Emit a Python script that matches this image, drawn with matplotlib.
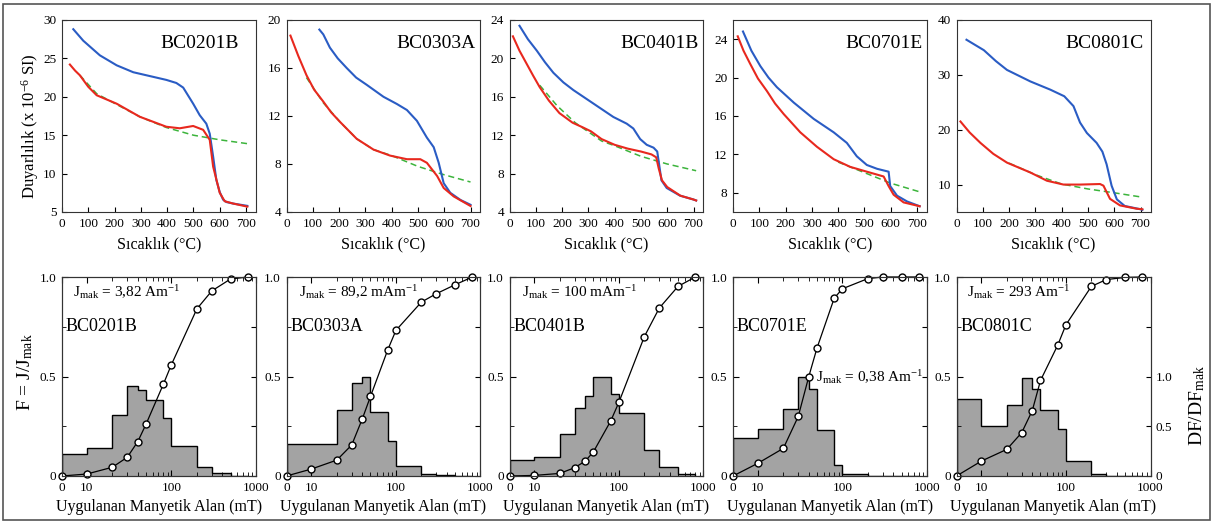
"""Thermomagnetic (k-T) curves and IRM acquisition / coercivity spectra for five samples."""
import matplotlib
matplotlib.use("Agg")
import matplotlib.pyplot as plt
from matplotlib import ticker
from matplotlib.patches import Rectangle

plt.rcParams["font.family"] = ["Liberation Serif", "DejaVu Serif"]
plt.rcParams["mathtext.fontset"] = "custom"
plt.rcParams["mathtext.rm"] = "Liberation Serif"
plt.rcParams["mathtext.it"] = "Liberation Serif:italic"

SAMPLES = ["BC0201B", "BC0303A", "BC0401B", "BC0701E", "BC0801C"]

# ---- k-T curves (temperature in °C, susceptibility x 1e-6 SI) ----
# blue = heating, red = cooling, green dashed = paramagnetic fit
BC0201B_BLUE_T = [43, 81, 144, 208, 271, 334, 397, 435, 461, 499, 524, 549, 562, 575, 587, 600, 613, 625, 651, 705]
BC0201B_BLUE_K = [28.8, 27.3, 25.4, 24.1, 23.2, 22.7, 22.2, 21.8, 21.2, 19.1, 17.6, 16.5, 15.2, 12.2, 9.2, 7.6, 6.6, 6.3, 6.1, 5.8]
BC0201B_RED_T = [30, 50, 68, 100, 132, 208, 296, 397, 448, 499, 537, 562, 575, 600, 619, 651, 705]
BC0201B_RED_K = [24.2, 23.4, 22.8, 21.3, 20.2, 19.1, 17.4, 16.1, 15.9, 16.2, 15.7, 14.4, 10.9, 7.5, 6.4, 6.1, 5.7]
BC0201B_FIT_T = [68, 132, 208, 296, 397, 500, 600, 705]
BC0201B_FIT_K = [22.8, 20.4, 19.0, 17.4, 16.0, 15.0, 14.4, 13.9]

BC0303A_BLUE_T = [125, 140, 165, 195, 229, 265, 305, 369, 420, 458, 496, 534, 560, 579, 598, 623, 662, 700]
BC0303A_BLUE_K = [19.2, 18.8, 17.7, 16.8, 16.0, 15.2, 14.6, 13.6, 13.0, 12.5, 11.6, 10.2, 9.4, 8.1, 6.4, 5.6, 5.0, 4.6]
BC0303A_RED_T = [15, 45, 76, 105, 140, 170, 204, 267, 331, 394, 458, 509, 534, 573, 598, 636, 700]
BC0303A_RED_K = [18.7, 17.0, 15.4, 14.2, 13.2, 12.3, 11.5, 10.1, 9.2, 8.7, 8.4, 8.4, 8.1, 7.0, 6.0, 5.3, 4.5]
BC0303A_FIT_T = [76, 140, 204, 267, 331, 400, 500, 600, 700]
BC0303A_FIT_K = [15.2, 13.1, 11.5, 10.1, 9.2, 8.7, 7.8, 7.1, 6.5]

BC0401B_BLUE_T = [38, 70, 104, 135, 167, 205, 243, 319, 395, 446, 471, 497, 522, 548, 562, 570, 578, 598, 649, 700, 710]
BC0401B_BLUE_K = [23.4, 22.0, 20.8, 19.6, 18.5, 17.5, 16.7, 15.3, 13.9, 13.2, 12.7, 11.6, 11.0, 10.7, 10.3, 8.8, 7.3, 6.5, 5.7, 5.3, 5.2]
BC0401B_RED_T = [13, 38, 64, 90, 115, 150, 190, 240, 280, 310, 350, 400, 450, 500, 540, 558, 568, 580, 600, 650, 700, 710]
BC0401B_RED_K = [22.3, 20.8, 19.5, 18.2, 17.0, 15.6, 14.3, 13.3, 12.8, 12.4, 11.6, 11.0, 10.6, 10.3, 10.0, 9.7, 8.5, 7.3, 6.6, 5.7, 5.3, 5.2]
BC0401B_FIT_T = [115, 180, 250, 350, 400, 500, 600, 710]
BC0401B_FIT_K = [17.2, 15.1, 13.3, 11.4, 10.9, 9.8, 9.0, 8.3]

BC0701E_BLUE_T = [38, 70, 104, 135, 167, 231, 307, 383, 433, 471, 509, 548, 592, 598, 624, 662, 710]
BC0701E_BLUE_K = [24.8, 22.8, 21.2, 20.0, 19.0, 17.4, 15.7, 14.3, 13.2, 11.8, 10.9, 10.5, 10.2, 8.7, 7.7, 7.1, 6.6]
BC0701E_RED_T = [18, 40, 66, 95, 129, 160, 193, 256, 319, 383, 446, 509, 573, 592, 611, 649, 710]
BC0701E_RED_K = [24.3, 22.8, 21.4, 19.9, 18.6, 17.3, 16.2, 14.3, 12.8, 11.5, 10.7, 10.2, 9.7, 8.7, 7.8, 7.0, 6.6]
BC0701E_FIT_T = [400, 500, 600, 710]
BC0701E_FIT_K = [11.2, 10.1, 9.0, 8.1]

BC0801C_BLUE_T = [38, 104, 150, 192, 281, 357, 410, 445, 470, 496, 533, 555, 571, 590, 610, 640, 700, 707]
BC0801C_BLUE_K = [36.4, 34.5, 32.5, 30.9, 28.8, 27.3, 26.1, 24.3, 21.3, 19.4, 17.6, 16.0, 13.7, 9.8, 7.3, 6.1, 5.5, 5.4]
BC0801C_RED_T = [15, 50, 91, 140, 192, 281, 344, 407, 470, 546, 559, 584, 622, 685, 707]
BC0801C_RED_K = [21.5, 19.5, 17.6, 15.6, 14.0, 12.2, 10.7, 10.0, 10.0, 10.1, 9.8, 7.4, 6.2, 5.6, 5.5]
BC0801C_FIT_T = [200, 300, 400, 500, 600, 707]
BC0801C_FIT_K = [13.9, 11.8, 10.1, 9.2, 8.5, 7.7]

KT_CURVES = {
    "BC0201B": (BC0201B_BLUE_T, BC0201B_BLUE_K, BC0201B_RED_T, BC0201B_RED_K, BC0201B_FIT_T, BC0201B_FIT_K),
    "BC0303A": (BC0303A_BLUE_T, BC0303A_BLUE_K, BC0303A_RED_T, BC0303A_RED_K, BC0303A_FIT_T, BC0303A_FIT_K),
    "BC0401B": (BC0401B_BLUE_T, BC0401B_BLUE_K, BC0401B_RED_T, BC0401B_RED_K, BC0401B_FIT_T, BC0401B_FIT_K),
    "BC0701E": (BC0701E_BLUE_T, BC0701E_BLUE_K, BC0701E_RED_T, BC0701E_RED_K, BC0701E_FIT_T, BC0701E_FIT_K),
    "BC0801C": (BC0801C_BLUE_T, BC0801C_BLUE_K, BC0801C_RED_T, BC0801C_RED_K, BC0801C_FIT_T, BC0801C_FIT_K),
}
KT_YLIMS = [(5, 30), (4, 20), (4, 24), (6, 26), (5, 40)]
KT_YTICKS = [[5, 10, 15, 20, 25, 30], [4, 8, 12, 16, 20], [4, 8, 12, 16, 20, 24],
             [8, 12, 16, 20, 24], [10, 20, 30, 40]]

# ---- IRM acquisition (field in mT) ----
IRM_FIELD = [0, 10, 20, 30, 40, 50, 80, 100, 200, 300, 500, 800]
IRM_F = {
    "BC0201B": [0, 0.01, 0.044, 0.094, 0.173, 0.26, 0.46, 0.56, 0.84, 0.93, 0.99, 1.0],
    "BC0303A": [0, 0.035, 0.08, 0.156, 0.287, 0.40, 0.634, 0.732, 0.874, 0.916, 0.961, 1.0],
    "BC0401B": [0, 0.003, 0.013, 0.042, 0.075, 0.122, 0.277, 0.371, 0.701, 0.844, 0.953, 1.0],
    "BC0701E": [0, 0.064, 0.139, 0.299, 0.50, 0.643, 0.894, 0.941, 0.992, 1.0, 1.0, 1.0],
    "BC0801C": [0, 0.075, 0.134, 0.218, 0.329, 0.48, 0.658, 0.76, 0.953, 0.987, 0.998, 1.0],
}
# coercivity spectrum DF/DF_mak, one value per field interval
DF_EDGES = IRM_FIELD
DF = {
    "BC0201B": [0.22, 0.28, 0.61, 0.90, 0.86, 0.76, 0.58, 0.30, 0.094, 0.026, 0],
    "BC0303A": [0.32, 0.32, 0.66, 0.93, 0.99, 0.64, 0.35, 0.10, 0.024, 0.008, 0],
    "BC0401B": [0.16, 0.19, 0.42, 0.68, 0.80, 1.0, 0.82, 0.63, 0.26, 0.09, 0.02],
    "BC0701E": [0.38, 0.47, 0.67, 1.0, 0.87, 0.46, 0.11, 0.016, 0.004, 0, 0],
    "BC0801C": [0.77, 0.50, 0.71, 0.98, 0.87, 0.66, 0.47, 0.15, 0.016, 0, 0],
}
JMAK_TEXT = [r"J$_{\mathrm{mak}}$ = 3,82 Am$^{\mathrm{-1}}$", r"J$_{\mathrm{mak}}$ = 89,2 mAm$^{\mathrm{-1}}$",
             r"J$_{\mathrm{mak}}$ = 100 mAm$^{\mathrm{-1}}$", r"J$_{\mathrm{mak}}$ = 0,38 Am$^{\mathrm{-1}}$",
             r"J$_{\mathrm{mak}}$ = 293 Am$^{\mathrm{-1}}$"]
JMAK_POS = [(0.057, 0.925), (0.062, 0.925), (0.062, 0.925), (0.43, 0.5), (0.052, 0.925)]
TOP_LABEL_X = [0.91, 0.975, 0.975, 0.98, 0.965]

BLUE = "#2a5cc4"
RED = "#e8281e"
GREEN = "#3cb43c"
HIST_GREY = "#a3a3a3"
SPINE = "#333333"

W, H = 1214, 524
LEFTS = [62, 286.5, 509.5, 733, 956.5]
AX_W = 194

fig = plt.figure(figsize=(W / 100, H / 100), dpi=100)

for i, name in enumerate(SAMPLES):
    # -------- top: k-T --------
    ax = fig.add_axes([LEFTS[i] / W, 1 - 212 / H, AX_W / W, 192 / H])
    bt, bk, rt, rk, ft, fk = KT_CURVES[name]
    ax.plot(ft, fk, color=GREEN, lw=1.1, ls=(0, (4, 2.5)), zorder=1)
    ax.plot(bt, bk, color=BLUE, lw=1.5, zorder=2)
    ax.plot(rt, rk, color=RED, lw=1.5, zorder=3)
    ax.set_xlim(0, 738)
    ax.set_ylim(*KT_YLIMS[i])
    ax.set_xticks(range(0, 701, 100))
    ax.set_yticks(KT_YTICKS[i])
    ax.tick_params(direction="in", length=3.5, labelsize=9.5, pad=4, colors="black")
    ax.set_xlabel("Sıcaklık (°C)", fontsize=11.5, labelpad=5)
    ax.text(TOP_LABEL_X[i], 0.875, name, transform=ax.transAxes, ha="right", va="center", fontsize=14)
    for sp in ax.spines.values():
        sp.set_color(SPINE)

    # -------- bottom: IRM + coercivity spectrum --------
    axb = fig.add_axes([LEFTS[i] / W, 1 - 476 / H, AX_W / W, 199 / H])
    axr = axb.twinx()
    axb.set_zorder(axr.get_zorder() + 1)
    axb.patch.set_visible(False)

    axr.stairs(DF[name], DF_EDGES, fill=True, color=HIST_GREY, lw=0)
    axr.stairs(DF[name], DF_EDGES, color="black", lw=1.0)
    axr.set_ylim(0, 2)
    axr.set_yticks([0, 0.5, 1.0, 1.5])
    axr.tick_params(direction="in", length=3.5, labelsize=9.5)
    if i == len(SAMPLES) - 1:
        axr.set_yticklabels(["0", "0.5", "1.0", ""])
    else:
        axr.set_yticklabels([])

    axb.plot(IRM_FIELD, IRM_F[name], color="black", lw=0.9, marker="o", ms=5,
             mfc="white", mec="black", mew=1.0, clip_on=False)
    axb.set_xscale("symlog", linthresh=10, linscale=0.265)
    axb.set_xlim(0, 1000)
    axr.set_xlim(0, 1000)
    axb.set_ylim(0, 1)
    axb.set_xticks([0, 10, 100, 1000])
    axb.set_xticklabels(["0", "10", "100", "1000"])
    minors = [m * d for d in (10, 100) for m in range(2, 10)]
    axb.xaxis.set_minor_locator(ticker.FixedLocator(minors))
    axb.xaxis.set_minor_formatter(ticker.NullFormatter())
    axb.set_yticks([0, 0.5, 1.0])
    axb.set_yticklabels(["0", "0.5", "1.0"])
    axb.yaxis.set_minor_locator(ticker.FixedLocator([0.25, 0.75]))
    axb.tick_params(which="both", direction="in", top=True, labelsize=9.5, pad=4)
    axb.tick_params(which="major", length=4)
    axb.tick_params(which="minor", length=3)
    axb.set_xlabel("Uygulanan Manyetik Alan (mT)", fontsize=11.5, labelpad=4)
    axb.text(0.02, 0.75, name, transform=axb.transAxes, ha="left", va="center", fontsize=13)
    jx, jy = JMAK_POS[i]
    axb.text(jx, jy, JMAK_TEXT[i], transform=axb.transAxes, ha="left", va="center", fontsize=11)
    for a in (axb, axr):
        for sp in a.spines.values():
            sp.set_color(SPINE)

fig.text(30 / W, 1 - 126 / H, "Duyarlılık (x 10$^{\\mathrm{-6}}$ SI)", rotation=90,
         ha="center", va="center", fontsize=12)
fig.text(25 / W, 1 - 372 / H, "F = J/J$_{\\mathrm{mak}}$", rotation=90,
         ha="center", va="center", fontsize=14)
fig.text(1197 / W, 1 - 406 / H, "DF/DF$_{\\mathrm{mak}}$", rotation=90,
         ha="center", va="center", fontsize=14)

fig.add_artist(Rectangle((3 / W, 4 / H), 1207 / W, 516 / H, transform=fig.transFigure,
                         fill=False, ec="#555555", lw=1.2))

fig.savefig("out.png", dpi=100)
